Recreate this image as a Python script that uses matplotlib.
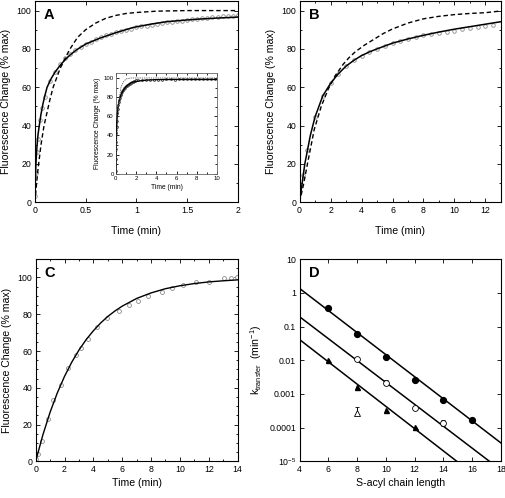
import matplotlib
matplotlib.use("Agg")
import matplotlib.pyplot as plt
from matplotlib.ticker import MultipleLocator, NullLocator, FixedLocator, FuncFormatter

plt.rcParams["font.family"] = ["Liberation Sans", "DejaVu Sans"]
plt.rcParams["mathtext.fontset"] = "custom"
plt.rcParams["mathtext.rm"] = "Liberation Sans"
plt.rcParams["mathtext.it"] = "Liberation Sans"

# ---- panel A ----
a_t = [0, 0.01, 0.02, 0.03, 0.05, 0.07, 0.1, 0.15, 0.2, 0.25, 0.3, 0.35, 0.4, 0.45,
       0.5, 0.55, 0.6, 0.65, 0.7, 0.75, 0.8, 0.85, 0.9, 0.95, 1.0, 1.05, 1.1, 1.15,
       1.2, 1.25, 1.3, 1.35, 1.4, 1.45, 1.5, 1.55, 1.6, 1.65, 1.7, 1.75, 1.8, 1.85,
       1.9, 1.95, 2.0]
a_v = [3, 15, 26, 33, 43, 49, 55, 63, 68, 72, 75, 77.5, 79.5, 81, 82.5, 83.8, 85, 86,
       87, 87.8, 88.6, 89.3, 90, 90.6, 91.2, 91.7, 92.2, 92.7, 93.1, 93.5, 93.9, 94.2,
       94.5, 94.8, 95.1, 95.4, 95.7, 96, 96.3, 96.6, 96.9, 97.1, 97.3, 97.4, 97.5]
a_fit2_t = [0, 0.005, 0.01, 0.02, 0.03, 0.043, 0.06, 0.08, 0.1, 0.12, 0.16, 0.2, 0.25,
            0.3, 0.35, 0.41, 0.5, 0.64, 0.8, 0.97, 1.15, 1.3, 1.5, 1.63, 1.8, 2.0]
a_fit2_v = [0, 12, 20, 29, 35, 40, 46, 51.5, 56, 60, 64.5, 68, 71.5, 74.5, 77, 79.5,
            82.5, 85.6, 88.5, 91.2, 93, 94.2, 95.1, 95.6, 96.1, 96.6]
a_fit1_t = [0, 0.015, 0.03, 0.06, 0.09, 0.12, 0.15, 0.18, 0.25, 0.34, 0.42, 0.5, 0.6,
            0.7, 0.8, 0.9, 1.0, 1.2, 1.5, 2.0]
a_fit1_v = [0, 9, 17, 30, 40, 47, 54, 60, 70, 79.5, 86, 90, 93.5, 96, 97.5, 98.5, 99,
            99.7, 100, 100]

# inset of panel A
in_t = a_t + [2.2, 2.6, 3.0, 3.4, 3.8, 4.2, 4.6, 5.0, 5.4, 5.8, 6.2, 6.6, 7.0, 7.4,
              7.8, 8.2, 8.6, 9.0, 9.4, 9.8]
in_v = a_v + [97.8, 98.0, 98.1, 98.2, 98.3, 98.3, 98.4, 98.5, 98.5, 98.4, 98.5, 98.6,
              98.5, 98.6, 98.5, 98.6, 98.6, 98.5, 98.6, 98.6]
in_fit2_t = [0, 0.05, 0.1, 0.2, 0.3, 0.5, 0.75, 1, 1.5, 2, 3, 4, 6, 10]
in_fit2_v = [0, 40, 55, 68, 75, 82.5, 87.5, 91, 95, 96.5, 97.8, 98.3, 98.5, 98.5]
in_fit1_t = [0, 0.1, 0.2, 0.3, 0.5, 0.75, 1, 1.5, 2, 10]
in_fit1_v = [0, 40, 62, 75, 90, 96, 99, 100, 100, 100]

# ---- panel B ----
b_t = [0.25, 0.5, 1, 1.5, 2, 2.5, 3, 3.5, 4, 4.5, 5, 5.5, 6, 6.5, 7, 7.5, 8, 8.5, 9,
       9.5, 10, 10.5, 11, 11.5, 12, 12.5]
b_v = [14, 27, 44.5, 55.5, 62, 67, 71, 74, 76.3, 78.3, 80, 81.5, 83, 84, 85, 86, 87,
       87.8, 88.3, 89, 89.6, 90.2, 90.8, 91.4, 91.8, 92.4]
b_fit2_t = [0, 0.34, 0.7, 1.0, 1.5, 2.0, 2.5, 3.0, 3.5, 4.0, 4.5, 5.0, 6, 7, 8, 9,
            10, 11, 12, 13]
b_fit2_v = [0, 20, 35, 44.5, 55.5, 62, 67, 71, 74, 76.5, 78.4, 80, 83, 85.2, 87.1,
            88.8, 90.3, 91.6, 92.9, 94.2]
b_fit1_t = [0, 0.25, 0.51, 0.95, 1.4, 1.85, 2.3, 2.82, 3.2, 3.6, 4.2, 4.86, 5.4, 6, 7,
            8, 9, 10, 11, 12, 13]
b_fit1_v = [0, 9, 20, 38, 50, 59, 66, 72, 75.5, 78.5, 82, 85.3, 88, 90.4, 93.5, 95.7,
            97, 97.9, 98.5, 98.9, 99.8]

# ---- panel C ----
c_t = [0, 0.18, 0.41, 0.83, 1.22, 1.73, 2.26, 2.79, 3.14, 3.65, 4.27, 4.96, 5.77,
       6.49, 7.07, 7.76, 8.73, 9.47, 10.19, 11.11, 12.01, 13.07, 13.53, 13.93]
c_v = [1.3, 4, 11.3, 23.1, 33.1, 41.7, 50.8, 57.7, 61.7, 66.5, 72.8, 77.8, 81.8, 85,
       87.2, 90, 92.3, 94.2, 96, 97.3, 97.6, 99.6, 99.6, 100]
c_fit_t = [0, 0.5, 1, 1.5, 2, 2.5, 3, 3.5, 4, 4.5, 5, 5.5, 6, 7, 8, 9, 10, 11, 12, 13, 14]
c_fit_v = [0, 14.4, 26.7, 37.2, 46.2, 53.9, 60.5, 66.2, 71, 75.2, 78.8, 81.8, 84.4,
           88.6, 91.6, 93.9, 95.5, 96.7, 97.6, 98.2, 98.7]

# ---- panel D ----
d_fc_x = [6, 8, 10, 12, 14, 16]
d_fc_y = [0.35, 0.06, 0.0122, 0.0026, 0.00068, 0.00017]
d_oc_x = [8, 10, 12, 14]
d_oc_y = [0.011, 0.0021, 0.00037, 0.000138]
d_oc_lo = [0.0, 0.0003, 0.0, 0.000025]
d_oc_hi = [0.0, 0.0004, 0.0, 0.000025]
d_ft_x = [6, 8, 10, 12]
d_ft_y = [0.0102, 0.00165, 0.00033, 0.000107]
d_ot_x = [8]
d_ot_y = [0.00028]
d_ot_lo = [0.000035]
d_ot_hi = [0.00012]
fit_top_x, fit_top_y = [4, 18], [1.35, 3.5e-5]
fit_mid_x, fit_mid_y = [4, 17.2], [0.195, 1e-5]
fit_bot_x, fit_bot_y = [4, 14.93], [0.041, 1e-5]

GREY = "#8a8a8a"
TICK_FS = 6.3
LAB_FS = 7.6


def style(ax, xmajor, xminor, ymajor, yminor, fs=TICK_FS, length=3.0):
    ax.xaxis.set_major_locator(MultipleLocator(xmajor))
    ax.yaxis.set_major_locator(MultipleLocator(ymajor))
    if xminor:
        ax.xaxis.set_minor_locator(MultipleLocator(xminor))
    if yminor:
        ax.yaxis.set_minor_locator(MultipleLocator(yminor))
    ax.tick_params(which="both", direction="in", top=True, right=True, labelsize=fs,
                   width=0.6, pad=2.5)
    ax.tick_params(which="major", length=length)
    ax.tick_params(which="minor", length=length * 0.55)
    for s in ax.spines.values():
        s.set_linewidth(0.8)


def letter(ax, s):
    ax.text(0.045, 0.965, s, transform=ax.transAxes, fontsize=10.5, fontweight="bold",
            va="top", ha="left")


fig = plt.figure(figsize=(5.06, 4.98), dpi=100, facecolor="white")
dash = (0, (3.2, 2.0))

# A
ax_a = fig.add_axes([0.069, 0.594, 0.401, 0.404])
ax_a.plot(a_t, a_v, "o", ms=2.6, mfc="white", mec=GREY, mew=0.6, zorder=2)
ax_a.plot(a_fit2_t, a_fit2_v, "-", color="black", lw=1.1, zorder=3)
ax_a.plot(a_fit1_t, a_fit1_v, color="black", lw=1.0, ls=dash, zorder=3)
ax_a.set_xlim(0, 2)
ax_a.set_ylim(0, 105)
style(ax_a, 0.5, None, 20, 10)
ax_a.xaxis.set_major_formatter(FuncFormatter(lambda v, p: f"{v:g}"))
ax_a.set_xlabel("Time (min)", fontsize=LAB_FS, labelpad=8)
ax_a.set_ylabel("Fluorescence Change (% max)", fontsize=LAB_FS, labelpad=4)
letter(ax_a, "A")

ins = fig.add_axes([0.229, 0.651, 0.200, 0.202])
ins.plot(in_t, in_v, "o", ms=1.4, mfc="white", mec="#333333", mew=0.5, zorder=2)
ins.plot(in_fit2_t, in_fit2_v, "-", color="black", lw=1.0, zorder=3)
ins.plot(in_fit1_t, in_fit1_v, color="#555555", lw=0.6, ls=(0, (1.5, 1.2)), zorder=3)
ins.set_xlim(0, 10)
ins.set_ylim(0, 105)
style(ins, 2, 1, 20, 10, fs=4.3, length=2.0)
ins.tick_params(pad=1.5)
for s in ins.spines.values():
    s.set_edgecolor("#666666")
    s.set_linewidth(0.6)
ins.set_xlabel("Time (min)", fontsize=4.8, labelpad=2)
ins.set_ylabel("Fluorescence Change (% max)", fontsize=4.8, labelpad=2)

# B
ax_b = fig.add_axes([0.592, 0.594, 0.398, 0.404])
ax_b.plot(b_t, b_v, "o", ms=2.6, mfc="white", mec=GREY, mew=0.6, zorder=2)
ax_b.plot(b_fit2_t, b_fit2_v, "-", color="black", lw=1.1, zorder=3)
ax_b.plot(b_fit1_t, b_fit1_v, color="black", lw=1.0, ls=dash, zorder=3)
ax_b.set_xlim(0, 13)
ax_b.set_ylim(0, 105)
style(ax_b, 2, 1, 20, 10)
ax_b.set_xlabel("Time (min)", fontsize=LAB_FS, labelpad=8)
ax_b.set_ylabel("Fluorescence Change (% max)", fontsize=LAB_FS, labelpad=4)
letter(ax_b, "B")

# C
ax_c = fig.add_axes([0.0705, 0.0737, 0.399, 0.406])
ax_c.plot(c_t, c_v, "o", ms=2.8, mfc="white", mec=GREY, mew=0.6, zorder=2)
ax_c.plot(c_fit_t, c_fit_v, "-", color="black", lw=1.0, zorder=3)
ax_c.set_xlim(0, 14)
ax_c.set_ylim(0, 110)
style(ax_c, 2, 1, 20, 5)
ax_c.set_xlabel("Time (min)", fontsize=LAB_FS, labelpad=3)
ax_c.set_ylabel("Fluorescence Change (% max)", fontsize=LAB_FS, labelpad=4)
letter(ax_c, "C")

# D
ax_d = fig.add_axes([0.592, 0.0737, 0.398, 0.406])
ax_d.set_yscale("log")
for fx, fy in ((fit_top_x, fit_top_y), (fit_mid_x, fit_mid_y), (fit_bot_x, fit_bot_y)):
    ax_d.plot(fx, fy, "-", color="black", lw=1.1, zorder=2)
ax_d.plot(d_fc_x, d_fc_y, "o", ms=4.2, color="black", zorder=3)
ax_d.errorbar(d_oc_x, d_oc_y, yerr=[d_oc_lo, d_oc_hi], fmt="o", ms=4.2, mfc="white",
              mec="black", mew=0.6, ecolor="black", elinewidth=0.7, capsize=1.5, zorder=3)
ax_d.plot(d_ft_x, d_ft_y, "^", ms=3.6, color="black", zorder=3)
ax_d.errorbar(d_ot_x, d_ot_y, yerr=[d_ot_lo, d_ot_hi], fmt="^", ms=3.8, mfc="white",
              mec="black", mew=0.6, ecolor="black", elinewidth=0.7, capsize=1.5, zorder=3)
ax_d.set_xlim(4, 18)
ax_d.set_ylim(1e-5, 10)
ax_d.xaxis.set_major_locator(MultipleLocator(2))
ax_d.yaxis.set_major_locator(FixedLocator([1e-5, 1e-4, 1e-3, 1e-2, 1e-1, 1, 10]))
ax_d.yaxis.set_minor_locator(NullLocator())
ax_d.set_yticklabels([r"10$^{-5}$", "0.0001", "0.001", "0.01", "0.1", "1", "10"])
ax_d.tick_params(which="both", direction="in", top=True, right=True,
                 labelsize=TICK_FS, width=0.6, length=3.0, pad=2.5)
for s in ax_d.spines.values():
    s.set_linewidth(0.8)
ax_d.set_xlabel("S-acyl chain length", fontsize=LAB_FS, labelpad=3)
ax_d.set_ylabel(r"k$_{transfer}$  (min$^{-1}$)", fontsize=LAB_FS, labelpad=4)
letter(ax_d, "D")

fig.savefig("out.png", dpi=100, facecolor="white")
